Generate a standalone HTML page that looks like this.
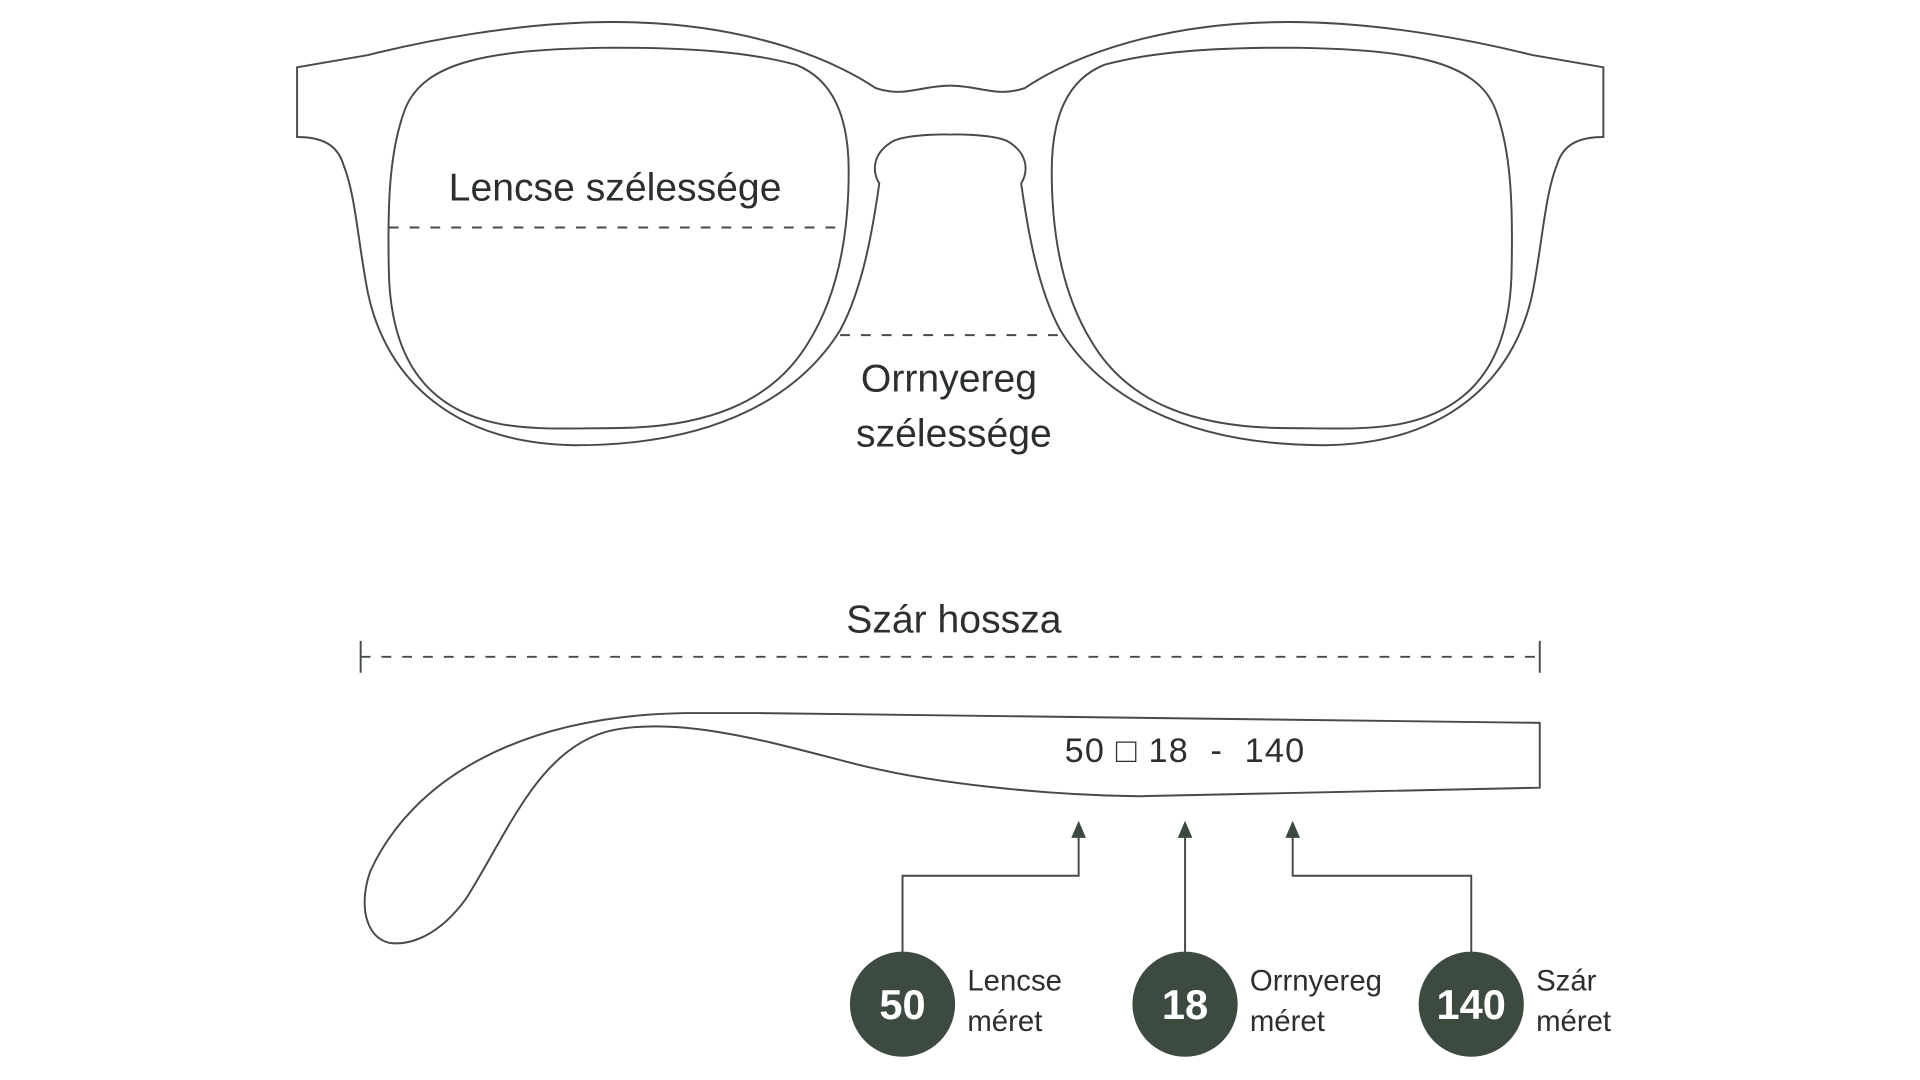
<!DOCTYPE html>
<html><head><meta charset="utf-8"><style>
html,body{margin:0;padding:0;background:#fff;}
svg{display:block}
text{font-family:"Liberation Sans",sans-serif;fill:#2b302c}
</style></head><body>
<svg width="1920" height="1080" viewBox="0 0 1568 883" xmlns="http://www.w3.org/2000/svg">
<rect width="1568" height="883" fill="#fff"/>
<g fill="none" stroke="#444c45" stroke-width="1.6">
 <g id="half">
  <path d="M776,70 C752,70 738,80 715,72 C690,55 620,18 500,18 C420,18 340,35 300,45 L242,55 L242,112 C262,112 275,118 280,135 C290,160 292,200 300,240 C315,310 370,363 470,364 C590,364 655,320 686,270 C705,235 713,185 718,150 C712,140 712,125 730,115 C745,109 776,110 776,110"/>
  <path d="M500,39 C400,40 345,50 330,90 C317,125 316,170 317,220 C318,290 345,335 410,347 C440,352 470,350 500,350 C575,350 630,330 660,280 C685,240 693,190 693,140 C693,95 680,65 650,53 C610,42 560,39 500,39 Z"/>
 </g>
 <use href="#half" transform="translate(1552,0) scale(-1,1)"/>
 <path d="M1258,644 L930,651 C850,650 760,640 700,625 C640,610 560,585 500,597 C440,610 415,680 380,735 C358,765 335,773 318,771 C298,767 292,740 302,712 C335,640 420,585 560,583 L620,583 L1258,591 Z"/>
 <path d="M294,524 V550 M1258,524 V550"/>
 <path d="M294,537 H1258" stroke-dasharray="8,9"/>
 <path d="M317,186 H690" stroke-dasharray="8,9"/>
 <path d="M686,274 H868" stroke-dasharray="8,9"/>
 <path d="M881,684 V716 H737 V780 M968,684 V780 M1056,684 V716 H1202 V780"/>
</g>
<g fill="#3d4a40">
 <path d="M881,671 L875,685 L887,685 Z"/>
 <path d="M968,671 L962,685 L974,685 Z"/>
 <path d="M1056,671 L1050,685 L1062,685 Z"/>
 <circle cx="737" cy="821" r="43"/>
 <circle cx="968" cy="821" r="43"/>
 <circle cx="1202" cy="821" r="43"/>
</g>
<g text-anchor="middle" font-size="32">
 <text x="502" y="164">Lencse szélessége</text>
 <text x="775" y="320">Orrnyereg</text>
 <text x="779" y="365">szélessége</text>
 <text x="779" y="517">Szár hossza</text>
 <text x="968" y="623" font-size="28" style="white-space:pre" letter-spacing="1">50 □ 18  -  140</text>
</g>
<g text-anchor="middle" font-size="34" font-weight="bold">
 <text x="737" y="833" style="fill:#fff">50</text>
 <text x="968" y="833" style="fill:#fff">18</text>
 <text x="1202" y="833" style="fill:#fff">140</text>
</g>
<g font-size="24">
 <text x="790" y="810">Lencse</text><text x="790" y="843">méret</text>
 <text x="1021" y="810">Orrnyereg</text><text x="1021" y="843">méret</text>
 <text x="1255" y="810">Szár</text><text x="1255" y="843">méret</text>
</g>
</svg>
</body></html>
